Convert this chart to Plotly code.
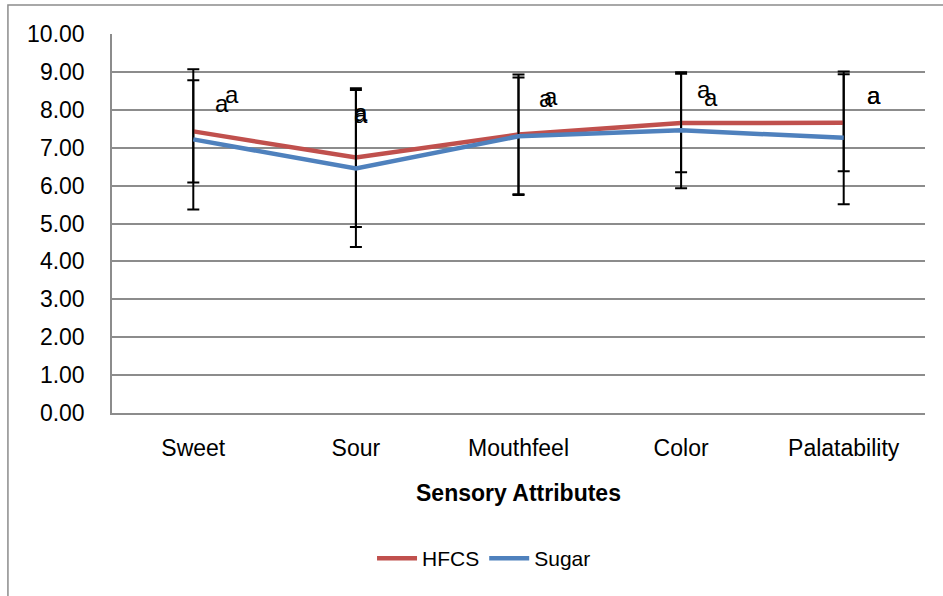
import plotly.graph_objects as go

categories = ["Sweet", "Sour", "Mouthfeel", "Color", "Palatability"]
hfcs = [7.43, 6.74, 7.35, 7.65, 7.66]
hfcs_err = [1.35, 1.83, 1.58, 1.30, 1.28]
sugar = [7.22, 6.45, 7.30, 7.46, 7.26]
sugar_err = [1.85, 2.07, 1.55, 1.53, 1.75]
hfcs_labels = ["a", "a", "a", "a", "a"]
sugar_labels = ["a", "a", "a", "a", "a"]
hfcs_label_y = [8.17, 7.88, 8.31, 8.54, 8.39]
sugar_label_y = [8.41, 7.93, 8.36, 8.33, 8.39]
hfcs_label_dx = [29, 5, 27, 23, 30]
sugar_label_dx = [39, 5, 32, 30, 30]

FONT = "Liberation Sans"
RED = "#C0504D"
BLUE = "#4F81BD"
GRID = "#8C8C8C"

fig = go.Figure()
fig.add_trace(go.Scatter(
    x=categories, y=hfcs, name="HFCS", mode="lines",
    line=dict(color=RED, width=4.5),
    error_y=dict(type="data", array=hfcs_err, visible=True, color="black", thickness=2, width=6),
))
fig.add_trace(go.Scatter(
    x=categories, y=sugar, name="Sugar", mode="lines",
    line=dict(color=BLUE, width=4.5),
    error_y=dict(type="data", array=sugar_err, visible=True, color="black", thickness=2, width=6),
))

annotations = []
for cat, t, yv, dx in zip(categories, hfcs_labels, hfcs_label_y, hfcs_label_dx):
    annotations.append(dict(x=cat, y=yv, text=t, showarrow=False, xshift=dx,
                            font=dict(family=FONT, size=24, color="black")))
for cat, t, yv, dx in zip(categories, sugar_labels, sugar_label_y, sugar_label_dx):
    annotations.append(dict(x=cat, y=yv, text=t, showarrow=False, xshift=dx,
                            font=dict(family=FONT, size=24, color="black")))

fig.update_layout(
    width=943, height=596,
    margin=dict(l=112, r=18, t=34, b=183),
    paper_bgcolor="white", plot_bgcolor="white",
    font=dict(family=FONT, size=22, color="black"),
    showlegend=True,
    legend=dict(orientation="h", x=0.4576, xanchor="center", y=-0.384, yanchor="middle",
                font=dict(family=FONT, size=21), itemwidth=40, traceorder="normal"),
    annotations=annotations,
    shapes=[dict(type="rect", xref="paper", yref="paper",
                 x0=-0.128, x1=1.2, y0=-0.6, y1=1.0766,
                 line=dict(color="#8C8C8C", width=1.5), layer="below")],
)
fig.update_yaxes(range=[0, 10], dtick=1, tick0=0, tickformat=".2f",
                 showgrid=True, gridcolor=GRID, gridwidth=1.5,
                 showline=True, linecolor=GRID, linewidth=1.5,
                 ticks="", ticklabelstandoff=21, zeroline=False,
                 tickfont=dict(family=FONT, size=23))
fig.update_xaxes(range=[-0.5, 4.5], showgrid=False, showline=True, linecolor=GRID, linewidth=1.5,
                 ticks="", ticklabelstandoff=14,
                 tickfont=dict(family=FONT, size=23),
                 title=dict(text="<b>Sensory Attributes</b>", standoff=25,
                            font=dict(family=FONT, size=23)))

fig.write_html("out.html")
